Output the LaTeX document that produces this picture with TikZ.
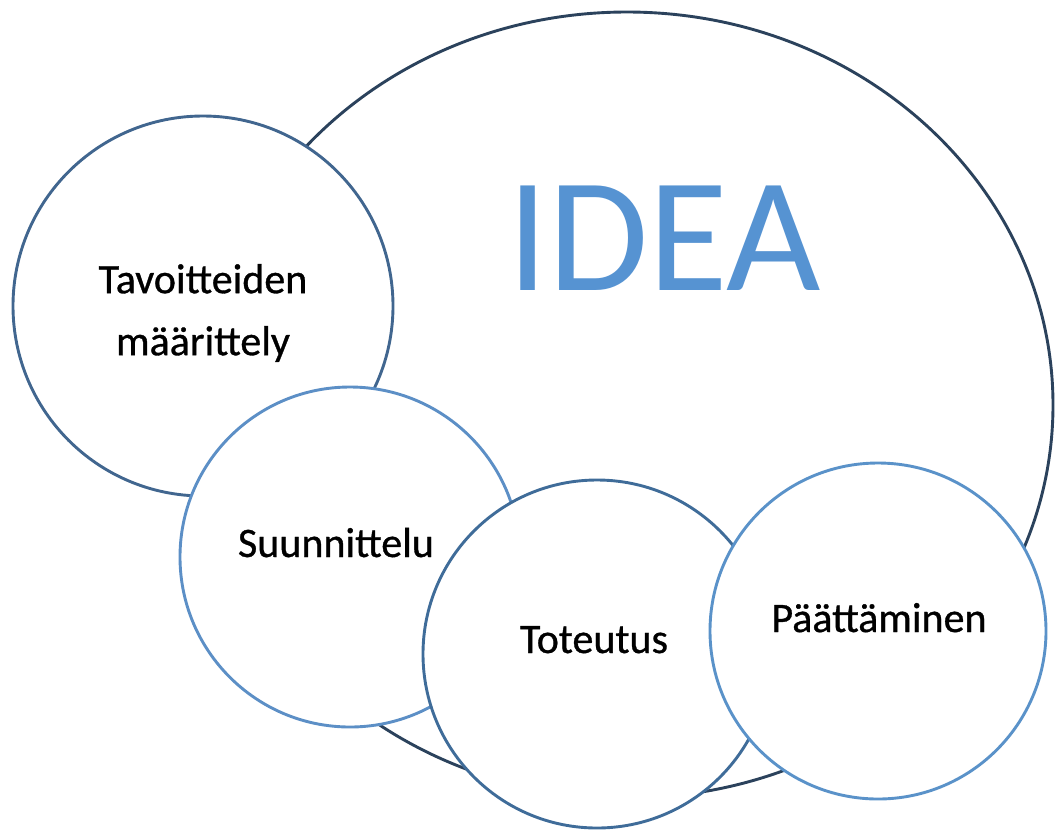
\documentclass[tikz,border=0pt]{standalone}
\usepackage{fontspec}
\setmainfont{Carlito}
\newfontfamily\lblfont[FakeBold=0.8]{Carlito}
\usetikzlibrary{shapes.geometric}
\definecolor{idealine}{HTML}{2B425C}
\definecolor{tavline}{HTML}{41668F}
\definecolor{suunline}{HTML}{5C8FC6}
\definecolor{totline}{HTML}{3F6C99}
\definecolor{paatline}{HTML}{5A92C9}
\definecolor{ideatext}{HTML}{5693D2}
\tikzset{
  bubble/.style={circle, draw, fill=white, line width=2.9pt, inner sep=0pt},
  lbl/.style={font=\lblfont\fontsize{42}{62}\selectfont, text=black, align=center, inner sep=0pt},
}
\begin{document}
\begin{tikzpicture}[x=1pt,y=-1pt]
\useasboundingbox (0,0) rectangle (1055,831);
\node[ellipse, draw=idealine, fill=white, line width=2.9pt, inner sep=0pt,
      minimum width=852pt, minimum height=786pt] (idea) at (627,405) {};
\node[font=\fontsize{163}{163}\selectfont, text=ideatext, inner sep=0pt, anchor=base] (ideatxt) at (664,290) {IDEA};
\node[bubble, draw=tavline, minimum size=380pt] (tav) at (203,306) {};
\node[lbl] (tavtxt) at (203,313) {Tavoitteiden\\määrittely};
\node[bubble, draw=suunline, minimum size=340pt] (suun) at (350,557) {};
\node[lbl, anchor=base] (suuntxt) at (336,557) {Suunnittelu};
\node[bubble, draw=totline, minimum size=348pt] (tot) at (597,654) {};
\node[lbl, anchor=base] (tottxt) at (594,653) {Toteutus};
\node[bubble, draw=paatline, minimum size=336pt] (paat) at (878,631) {};
\node[lbl, anchor=base] (paattxt) at (879,632) {Päättäminen};
\end{tikzpicture}
\end{document}
